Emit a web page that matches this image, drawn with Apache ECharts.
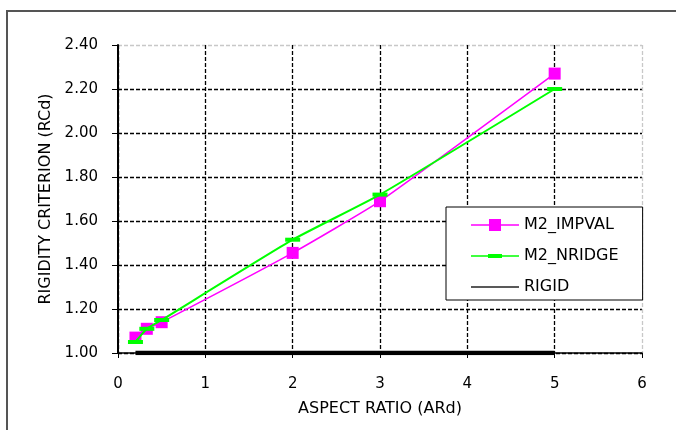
<!DOCTYPE html>
<html>
<head>
<meta charset="utf-8">
<script src="https://cdn.jsdelivr.net/npm/echarts@6/dist/echarts.min.js"></script>
<style>
  html, body { margin: 0; padding: 0; background: #fff; }
  #rigidity { width: 676px; height: 430px; }
</style>
</head>
<body>
<div id="rigidity"></div>
<script>
// aspect ratio values (x)
var aspectRatio = [0.2, 0.33, 0.5, 2, 3, 5];
// rigidity criterion per series
var impvalValues = [1.07, 1.11, 1.14, 1.455, 1.69, 2.27];
var nridgeValues = [1.05, 1.11, 1.15, 1.515, 1.72, 2.20];
var rigidX = [0.2, 5];
var rigidValues = [1.0, 1.0];
var seriesNames = ["M2_IMPVAL", "M2_NRIDGE", "RIGID"];

function pairs(xs, ys) {
  var out = [];
  for (let i = 0; i < xs.length; i++) {
    out.push([xs[i], ys[i]]);
  }
  return out;
}

var font = "DejaVu Sans";
var dash = [4, 2];

// legend icons drawn as paths (line + marker)
var iconSquare = "path://M0,5.2L48,5.2L48,6.8L0,6.8Z M18,0L30,0L30,12L18,12Z";
var iconDash = "path://M0,5.2L48,5.2L48,6.8L0,6.8Z M17,4L31,4L31,8L17,8Z";
var iconLine = "path://M0,0L48,0L48,1.5L0,1.5Z";

var chartRigidity = echarts.init(document.getElementById("rigidity"));
var option = {
  animation: false,
  textStyle: { fontFamily: font },
  graphic: [
    {
      type: "rect",
      shape: { x: 7, y: 11, width: 700, height: 440 },
      style: { fill: "none", stroke: "#555", lineWidth: 2 },
      silent: true
    }
  ],
  grid: {
    left: 118,
    right: 34,
    top: 45,
    bottom: 77
  },
  legend: {
    orient: "vertical",
    left: 446,
    top: 207,
    padding: [10, 24, 5, 25],
    itemWidth: 48,
    itemHeight: 12,
    itemGap: 15,
    borderColor: "#000",
    borderWidth: 1,
    backgroundColor: "#fff",
    textStyle: { fontFamily: font, fontSize: 16, color: "#000" },
    data: [
      { name: seriesNames[0], icon: iconSquare },
      { name: seriesNames[1], icon: iconDash },
      { name: seriesNames[2], icon: iconLine, itemStyle: { color: "#222" } }
    ]
  },
  xAxis: {
    type: "value",
    min: 0,
    max: 6,
    interval: 1,
    name: "ASPECT RATIO (ARd)",
    nameLocation: "middle",
    nameGap: 48,
    nameTextStyle: { fontFamily: font, fontSize: 16, color: "#000" },
    axisLine: { onZero: false, lineStyle: { color: "#000", width: 1.5 } },
    axisTick: { show: true, inside: false, length: 5, lineStyle: { color: "#000" } },
    axisLabel: { margin: 24, fontFamily: font, fontSize: 15, color: "#000" },
    splitLine: {
      show: true,
      lineStyle: {
        type: dash,
        width: 1.3,
        color: ["#000", "#000", "#000", "#000", "#000", "#000", "#c8c8c8"]
      }
    }
  },
  yAxis: {
    type: "value",
    min: 1,
    max: 2.4,
    interval: 0.2,
    name: "RIGIDITY CRITERION (RCd)",
    nameLocation: "middle",
    nameGap: 62,
    nameTextStyle: { fontFamily: font, fontSize: 16, color: "#000" },
    axisLine: { show: true, lineStyle: { color: "#000", width: 2 } },
    axisTick: { show: true, inside: false, length: 6, lineStyle: { color: "#000" } },
    axisLabel: {
      margin: 20,
      fontFamily: font,
      fontSize: 15,
      color: "#000",
      formatter: function (v) { return v.toFixed(2); }
    },
    splitLine: {
      show: true,
      lineStyle: {
        type: dash,
        width: 1.3,
        color: ["#000", "#000", "#000", "#000", "#000", "#000", "#000", "#c8c8c8"]
      }
    }
  },
  series: [
    {
      name: seriesNames[2],
      type: "line",
      data: pairs(rigidX, rigidValues),
      symbol: "none",
      lineStyle: { color: "#000", width: 4.5 },
      itemStyle: { color: "#000" },
      z: 3
    },
    {
      name: seriesNames[0],
      type: "line",
      data: pairs(aspectRatio, impvalValues),
      smooth: 0.15,
      symbol: "rect",
      symbolSize: 12,
      lineStyle: { color: "#ff00ff", width: 1.5 },
      itemStyle: { color: "#ff00ff" },
      z: 4
    },
    {
      name: seriesNames[1],
      type: "line",
      data: pairs(aspectRatio, nridgeValues),
      smooth: 0.15,
      symbol: "rect",
      symbolSize: [15, 4],
      lineStyle: { color: "#00ff00", width: 2 },
      itemStyle: { color: "#00ff00" },
      z: 5
    }
  ]
};
chartRigidity.setOption(option);
window.addEventListener("resize", function () {
  chartRigidity.resize();
});
</script>
</body>
</html>
